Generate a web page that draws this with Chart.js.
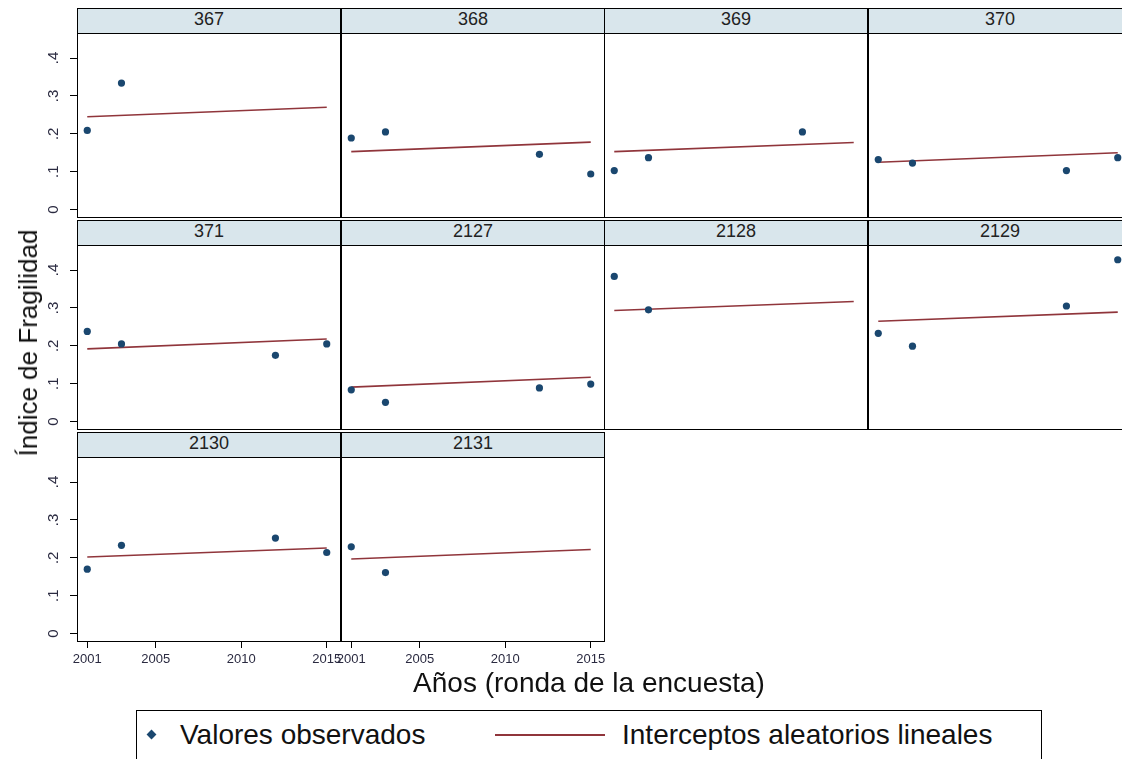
<!DOCTYPE html>
<html>
<head>
<meta charset="utf-8">
<script src="https://cdn.jsdelivr.net/npm/chart.js@4.4.1/dist/chart.umd.min.js"></script>
<style>
  body { margin: 0; width: 1122px; height: 759px; overflow: hidden; background: #fff;
         font-family: "Liberation Sans", Arial, sans-serif; position: relative; }
  .hdr { position: absolute; box-sizing: border-box; background: #d9e6ec; border: 1.5px solid #000;
         text-align: center; font-size: 18px; line-height: 21px; color: #222; }
  .frame { position: absolute; box-sizing: border-box; border: 1.5px solid #000; pointer-events: none; }
  canvas { position: absolute; }
  .txt { position: absolute; white-space: nowrap; color: #111; line-height: 28px; font-size: 28px; }
</style>
</head>
<body>
<script>
// datos
const years = [2001, 2003, 2012, 2015];
const fitYears = [2001, 2015];
const xTicks = [2001, 2005, 2010, 2015];
const yTicks = [0, 0.1, 0.2, 0.3, 0.4];
const panelIds = ['367', '368', '369', '370', '371', '2127', '2128', '2129', '2130', '2131'];

// valores observados (null = sin dato)
const obs367  = [0.209, 0.334, null, null];
const obs368  = [0.189, 0.205, 0.146, 0.094];
const obs369  = [0.103, 0.137, 0.205, null];
const obs370  = [0.132, 0.123, 0.103, 0.137];
const obs371  = [0.238, 0.205, 0.175, 0.205];
const obs2127 = [0.084, 0.051, 0.089, 0.099];
const obs2128 = [0.383, 0.295, null, null];
const obs2129 = [0.233, 0.199, 0.305, 0.427];
const obs2130 = [0.170, 0.233, 0.252, 0.214];
const obs2131 = [0.229, 0.161, null, null];

// interceptos aleatorios lineales (2001, 2015)
const fit367  = [0.245, 0.270];
const fit368  = [0.153, 0.178];
const fit369  = [0.153, 0.177];
const fit370  = [0.125, 0.150];
const fit371  = [0.192, 0.218];
const fit2127 = [0.091, 0.117];
const fit2128 = [0.293, 0.317];
const fit2129 = [0.265, 0.289];
const fit2130 = [0.202, 0.226];
const fit2131 = [0.197, 0.222];

const observados = [obs367, obs368, obs369, obs370, obs371, obs2127, obs2128, obs2129, obs2130, obs2131];
const interceptos = [fit367, fit368, fit369, fit370, fit371, fit2127, fit2128, fit2129, fit2130, fit2131];

const colX = [77, 341, 604, 868];
const rowY = [8, 220, 432];
const panelW = 264, hdrH = 25, plotH = 185;
const yAxisW = 45, xAxisH = 30;

Chart.defaults.font.family = '"Liberation Sans", Arial, sans-serif';
Chart.defaults.animation = false;

function el(tag, cls, style, text) {
  const e = document.createElement(tag);
  if (cls) e.className = cls;
  Object.assign(e.style, style);
  if (text) e.textContent = text;
  document.body.appendChild(e);
  return e;
}

// quita el relleno que chart.js deja para las etiquetas de los extremos
function sinRelleno(s) {
  s.paddingTop = 0; s.paddingBottom = 0; s.paddingLeft = 0; s.paddingRight = 0;
}

// canvases primero, marcos encima
panelIds.forEach((id, i) => {
  const row = Math.floor(i / 4), col = i % 4;
  const showY = col === 0;
  const showX = row === 2;
  const cv = el('canvas', null, { left: (colX[col] - yAxisW) + 'px', top: (rowY[row] + hdrH) + 'px' });
  cv.width = panelW + yAxisW;
  cv.height = plotH + xAxisH;

  const pts = [];
  years.forEach((yr, k) => { if (observados[i][k] !== null) pts.push({ x: yr, y: observados[i][k] }); });
  const linea = fitYears.map((yr, k) => ({ x: yr, y: interceptos[i][k] }));

  new Chart(cv, {
    type: 'scatter',
    data: {
      datasets: [
        { label: 'Valores observados', data: pts, backgroundColor: '#1a476f', borderWidth: 0,
          pointRadius: 3.6, pointStyle: 'circle' },
        { label: 'Interceptos aleatorios lineales', data: linea, showLine: true, borderColor: '#90353b',
          borderWidth: 1.6, pointRadius: 0, fill: false }
      ]
    },
    options: {
      responsive: false,
      devicePixelRatio: 1,
      layout: { padding: 0 },
      plugins: { legend: { display: false }, tooltip: { enabled: false } },
      scales: {
        x: {
          type: 'linear', min: 2000.4, max: 2015.6,
          afterBuildTicks: s => { s.ticks = xTicks.map(v => ({ value: v })); },
          afterFit: s => { s.height = xAxisH; sinRelleno(s); },
          border: { display: false },
          grid: { display: showX, drawOnChartArea: false, tickLength: 6, color: '#000', lineWidth: 1 },
          ticks: { display: showX, padding: 4, maxRotation: 0, autoSkip: false,
                   color: '#2a2a40', font: { size: 13 }, callback: v => String(v) }
        },
        y: {
          min: -0.022, max: 0.4554,
          afterBuildTicks: s => { s.ticks = yTicks.map(v => ({ value: v })); },
          afterFit: s => { s.width = yAxisW; sinRelleno(s); },
          border: { display: false },
          grid: { display: showY, drawOnChartArea: false, tickLength: 7, color: '#000', lineWidth: 1 },
          ticks: { display: showY, padding: 10, minRotation: 90, maxRotation: 90, crossAlign: 'center',
                   color: '#2a2a40', font: { size: 15 },
                   callback: v => v === 0 ? '0' : '.' + Math.round(v * 10) }
        }
      }
    }
  });
});

panelIds.forEach((id, i) => {
  const row = Math.floor(i / 4), col = i % 4;
  el('div', 'hdr', { left: colX[col] + 'px', top: rowY[row] + 'px', width: panelW + 'px', height: (hdrH + 1) + 'px' }, id);
  el('div', 'frame', { left: colX[col] + 'px', top: (rowY[row] + hdrH) + 'px', width: panelW + 'px', height: plotH + 'px' });
});

// titulos de ejes
el('div', 'txt', { left: '28px', top: '343px', fontSize: '26px', lineHeight: '26px',
  transform: 'translate(-50%,-50%) rotate(-90deg)' }, 'Índice de Fragilidad');
el('div', 'txt', { left: '589px', top: '669px', transform: 'translateX(-50%)' }, 'Años (ronda de la encuesta)');

// leyenda
el('div', 'frame', { left: '136px', top: '710px', width: '906px', height: '70px' });
el('div', null, { position: 'absolute', left: '148px', top: '731px', width: '7px', height: '7px',
  background: '#1a476f', transform: 'rotate(45deg)' });
el('div', 'txt', { left: '180px', top: '721px' }, 'Valores observados');
el('div', null, { position: 'absolute', left: '495px', top: '734px', width: '110px', height: '2px', background: '#90353b' });
el('div', 'txt', { left: '622px', top: '721px' }, 'Interceptos aleatorios lineales');
</script>
</body>
</html>
